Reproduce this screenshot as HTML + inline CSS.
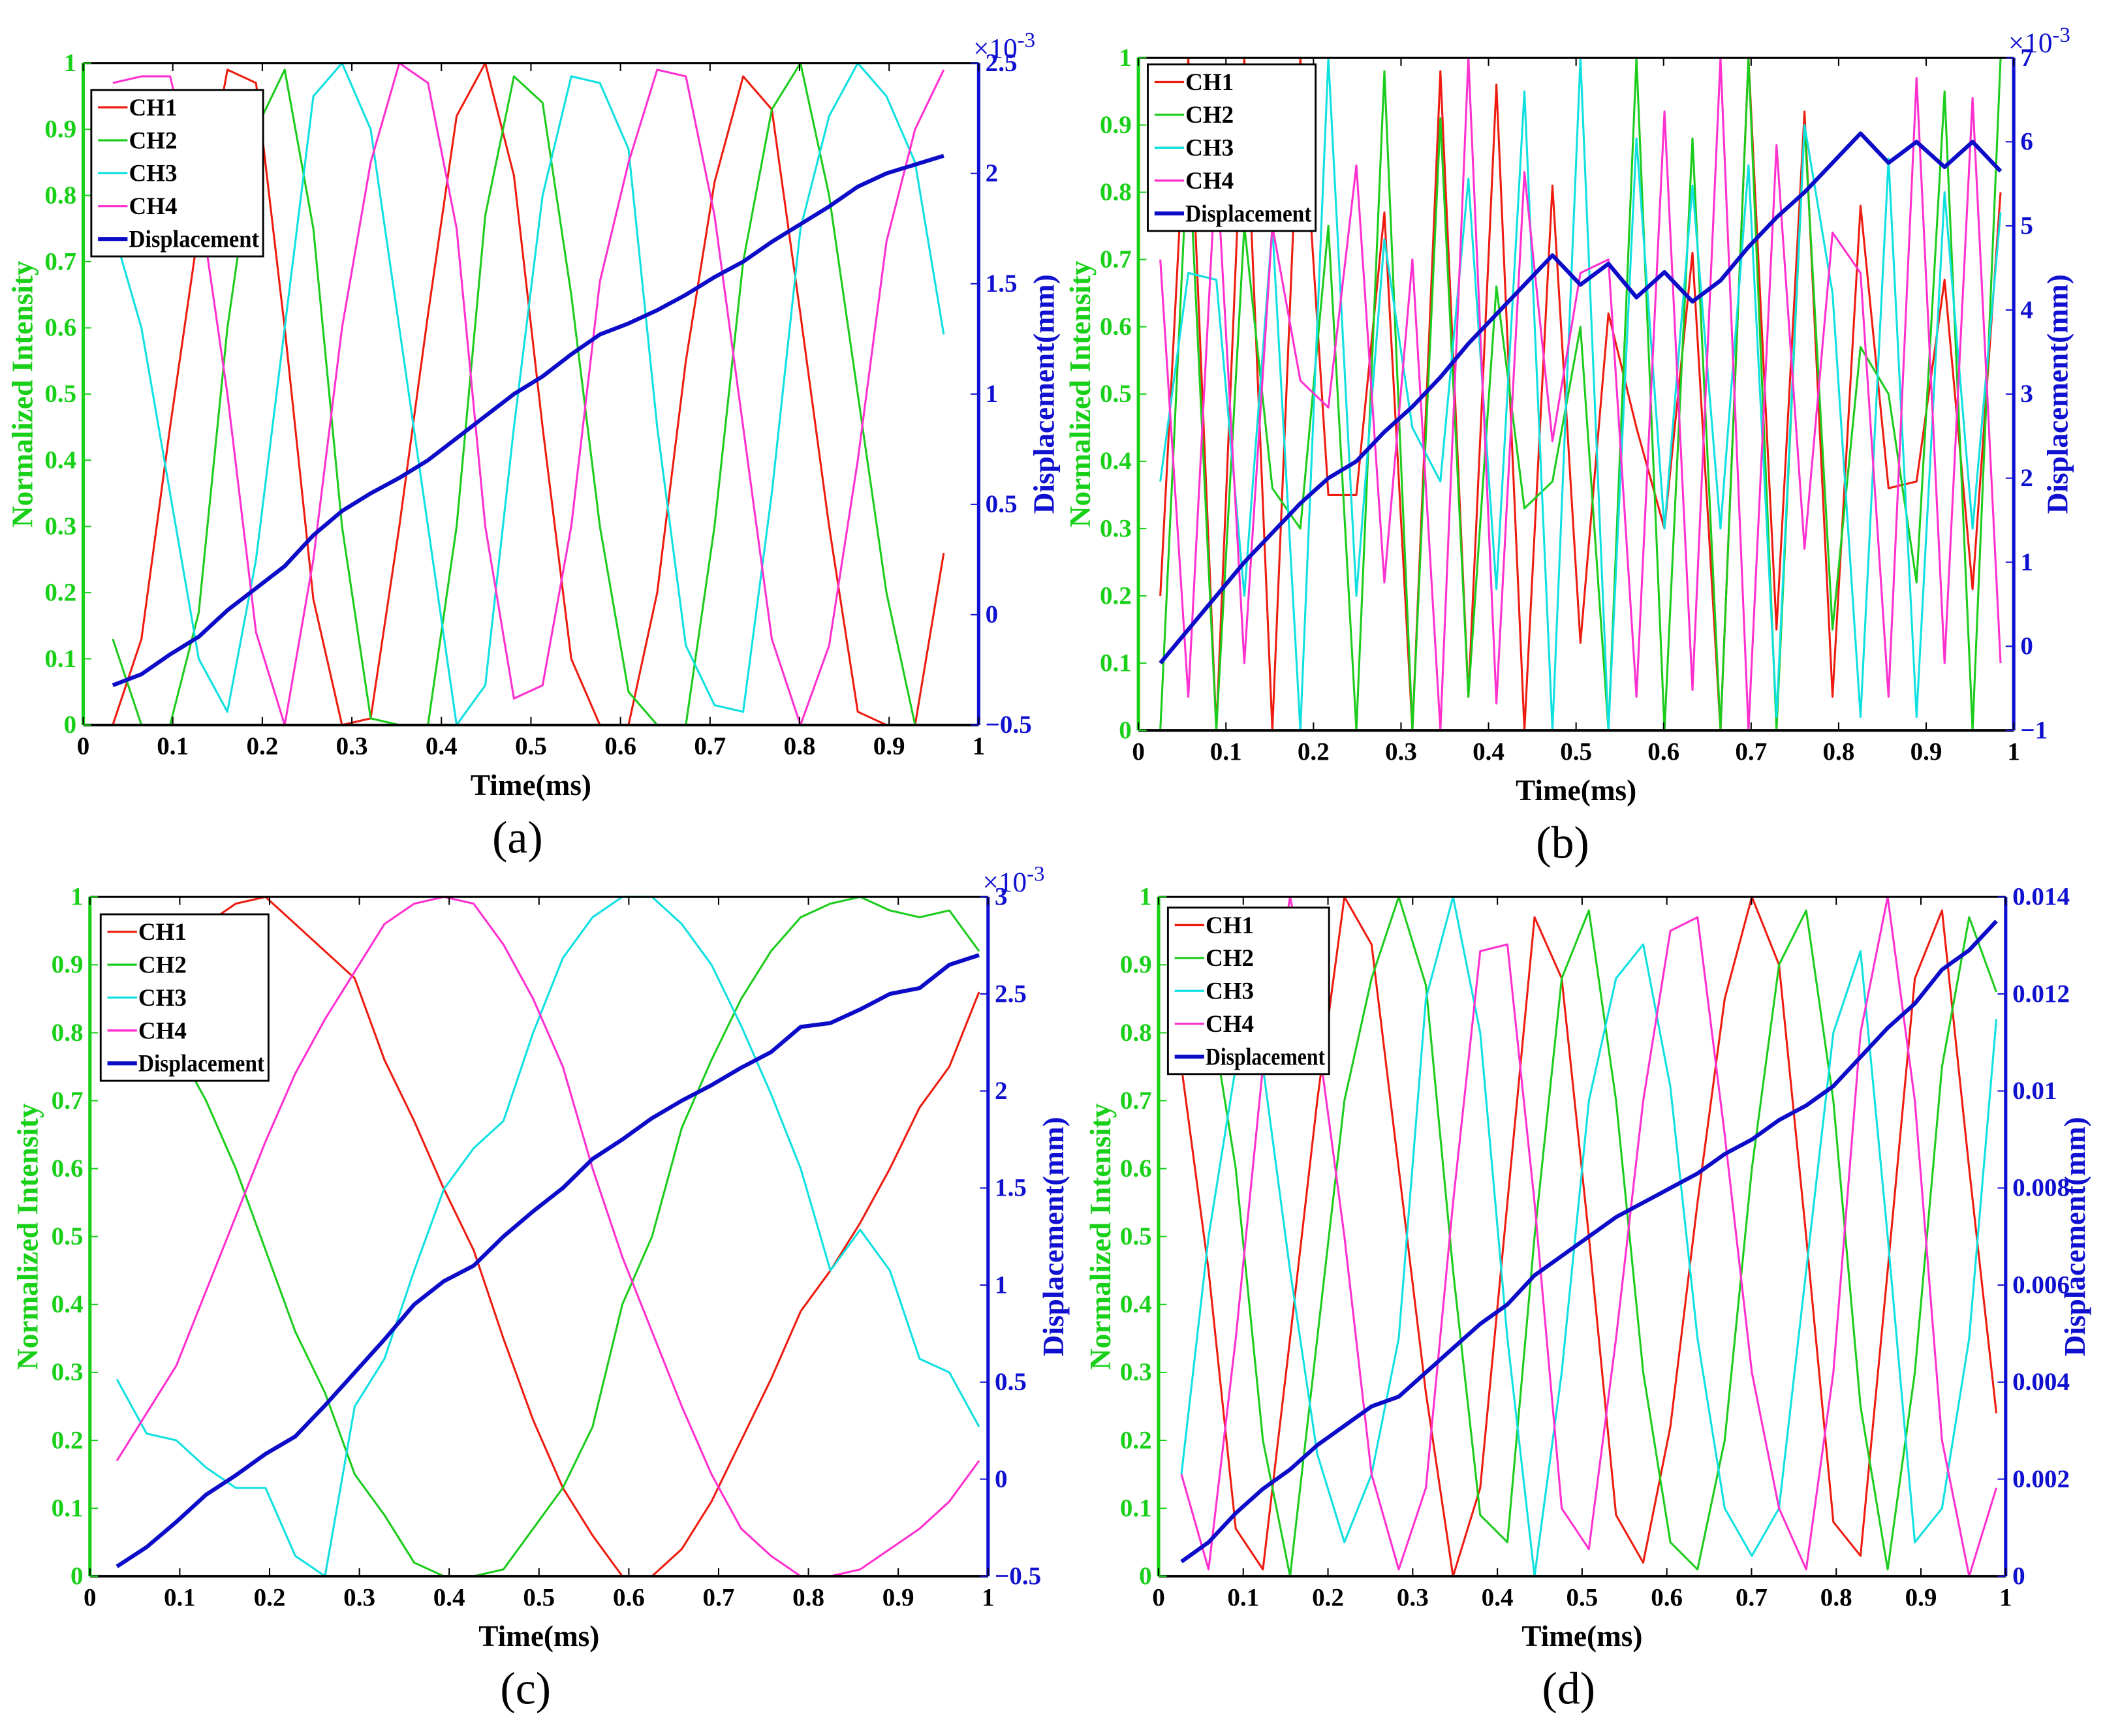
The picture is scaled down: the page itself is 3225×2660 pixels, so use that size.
<!DOCTYPE html>
<html><head><meta charset="utf-8"><style>
html,body{margin:0;padding:0;background:#fff;}
svg{display:block;font-family:"Liberation Serif",serif;}
</style></head><body>
<svg id="fig" width="3225" height="2660" viewBox="0 0 1568 1293" preserveAspectRatio="none" xmlns="http://www.w3.org/2000/svg"></svg>
<script>
// ---------- data ----------
const xTicks = [0,0.1,0.2,0.3,0.4,0.5,0.6,0.7,0.8,0.9,1];
const yTicks = [0,0.1,0.2,0.3,0.4,0.5,0.6,0.7,0.8,0.9,1];
const seriesNames = ["CH1","CH2","CH3","CH4","Displacement"];

// panel a
const aRed   = [0,0.13,0.45,0.75,0.99,0.97,0.6,0.19,0.0,0.01,0.3,0.62,0.92,1.0,0.83,0.45,0.1,0.0,0.0,0.2,0.55,0.82,0.98,0.93,0.62,0.3,0.02,0.0,0.0,0.26];
const aGreen = [0.13,0,0,0.17,0.6,0.9,0.99,0.75,0.3,0.01,0,0,0.3,0.77,0.98,0.94,0.65,0.3,0.05,0,0,0.3,0.7,0.93,1.0,0.8,0.5,0.2,0,0];
const aCyan  = [0.75,0.6,0.35,0.1,0.02,0.25,0.6,0.95,1.0,0.9,0.6,0.3,0.0,0.06,0.45,0.8,0.98,0.97,0.87,0.45,0.12,0.03,0.02,0.35,0.75,0.92,1.0,0.95,0.85,0.59];
const aMag   = [0.97,0.98,0.98,0.8,0.5,0.14,0.0,0.25,0.6,0.85,1.0,0.97,0.75,0.3,0.04,0.06,0.3,0.67,0.85,0.99,0.98,0.77,0.45,0.13,0.0,0.12,0.4,0.73,0.9,0.99];
const aDisp  = [-0.32,-0.27,-0.18,-0.1,0.02,0.12,0.22,0.36,0.47,0.55,0.62,0.7,0.8,0.9,1.0,1.08,1.18,1.27,1.32,1.38,1.45,1.53,1.6,1.69,1.77,1.85,1.94,2.0,2.04,2.08];
const aRightTicks = [-0.5,0,0.5,1,1.5,2,2.5];
const aRightLabels = ["\u22120.5","0","0.5","1","1.5","2","2.5"];

// panel b
const bRed   = [0.2,1.0,0.0,1.0,0.0,1.0,0.35,0.35,0.77,0.0,0.98,0.05,0.96,0.0,0.81,0.13,0.62,0.45,0.3,0.71,0.0,1.0,0.15,0.92,0.05,0.78,0.36,0.37,0.67,0.21,0.8];
const bGreen = [0.0,0.88,0.0,0.75,0.36,0.3,0.75,0.0,0.98,0.0,0.91,0.05,0.66,0.33,0.37,0.6,0.0,1.0,0.0,0.88,0.0,1.0,0.0,0.9,0.15,0.57,0.5,0.22,0.95,0.0,1.0];
const bCyan  = [0.37,0.68,0.67,0.2,0.75,0.0,1.0,0.2,0.73,0.45,0.37,0.82,0.21,0.95,0.0,1.0,0.0,0.88,0.3,0.81,0.3,0.84,0.02,0.9,0.65,0.02,0.85,0.02,0.8,0.3,0.77];
const bMag   = [0.7,0.05,0.85,0.1,0.75,0.52,0.48,0.84,0.22,0.7,0.0,1.0,0.04,0.83,0.43,0.68,0.7,0.05,0.92,0.06,1.0,0.0,0.87,0.27,0.74,0.68,0.05,0.97,0.1,0.94,0.1];
const bDisp  = [-0.2,0.2,0.6,1.0,1.35,1.7,2.0,2.2,2.55,2.85,3.2,3.6,3.95,4.3,4.65,4.3,4.55,4.15,4.45,4.1,4.35,4.75,5.1,5.4,5.75,6.1,5.75,6.0,5.7,6.0,5.65];
const bRightTicks = [-1,0,1,2,3,4,5,6,7];
const bRightLabels = ["\u22121","0","1","2","3","4","5","6","7"];

// panel c
const cRed   = [0.75,0.83,0.9,0.96,0.99,1.0,0.96,0.92,0.88,0.76,0.67,0.57,0.48,0.35,0.23,0.13,0.06,0.0,0.0,0.04,0.11,0.2,0.29,0.39,0.45,0.52,0.6,0.69,0.75,0.86];
const cGreen = [0.92,0.85,0.78,0.7,0.6,0.48,0.36,0.27,0.15,0.09,0.02,0.0,0.0,0.01,0.07,0.13,0.22,0.4,0.5,0.66,0.76,0.85,0.92,0.97,0.99,1.0,0.98,0.97,0.98,0.92];
const cCyan  = [0.29,0.21,0.2,0.16,0.13,0.13,0.03,0.0,0.25,0.32,0.45,0.57,0.63,0.67,0.8,0.91,0.97,1.0,1.0,0.96,0.9,0.81,0.71,0.6,0.45,0.51,0.45,0.32,0.3,0.22];
const cMag   = [0.17,0.24,0.31,0.42,0.53,0.64,0.74,0.82,0.89,0.96,0.99,1.0,0.99,0.93,0.85,0.75,0.6,0.47,0.36,0.25,0.15,0.07,0.03,0.0,0.0,0.01,0.04,0.07,0.11,0.17];
const cDisp  = [-0.45,-0.35,-0.22,-0.08,0.02,0.13,0.22,0.38,0.55,0.72,0.9,1.02,1.1,1.25,1.38,1.5,1.65,1.75,1.86,1.95,2.03,2.12,2.2,2.33,2.35,2.42,2.5,2.53,2.65,2.7];
const cRightTicks = [-0.5,0,0.5,1,1.5,2,2.5,3];
const cRightLabels = ["\u22120.5","0","0.5","1","1.5","2","2.5","3"];

// panel d
const dRed   = [0.75,0.45,0.07,0.01,0.35,0.7,1.0,0.93,0.6,0.27,0.0,0.13,0.55,0.97,0.88,0.5,0.09,0.02,0.22,0.55,0.85,1.0,0.9,0.5,0.08,0.03,0.45,0.88,0.98,0.6,0.24];
const dGreen = [0.95,0.85,0.6,0.2,0.0,0.35,0.7,0.88,1.0,0.87,0.45,0.09,0.05,0.5,0.88,0.98,0.7,0.3,0.05,0.01,0.2,0.6,0.9,0.98,0.7,0.25,0.01,0.3,0.75,0.97,0.86];
const dCyan  = [0.15,0.5,0.75,0.75,0.45,0.18,0.05,0.15,0.35,0.85,1.0,0.8,0.35,0.0,0.3,0.7,0.88,0.93,0.72,0.35,0.1,0.03,0.1,0.45,0.8,0.92,0.5,0.05,0.1,0.35,0.82];
const dMag   = [0.15,0.01,0.35,0.75,1.0,0.8,0.5,0.15,0.01,0.13,0.55,0.92,0.93,0.55,0.1,0.04,0.35,0.7,0.95,0.97,0.65,0.3,0.1,0.01,0.3,0.8,1.0,0.7,0.2,0.0,0.13];
const dDisp  = [0.0003,0.0007,0.0013,0.0018,0.0022,0.0027,0.0031,0.0035,0.0037,0.0042,0.0047,0.0052,0.0056,0.0062,0.0066,0.007,0.0074,0.0077,0.008,0.0083,0.0087,0.009,0.0094,0.0097,0.0101,0.0107,0.0113,0.0118,0.0125,0.0129,0.0135];
const dRightTicks = [0,0.002,0.004,0.006,0.008,0.01,0.012,0.014];
const dRightLabels = ["0","0.002","0.004","0.006","0.008","0.01","0.012","0.014"];

// ---------- drawing ----------
const NS = "http://www.w3.org/2000/svg";
const svg = document.getElementById("fig");
const COLORS = ["#ee1c10","#1ccc1c","#10e0e0","#ff30d0","#0c0cc8"];
const GREEN = "#19d019", BLUE = "#1010d0";

function mk(tag, attrs, parent, txt){
  const e = document.createElementNS(NS, tag);
  for (const k in attrs) e.setAttribute(k, attrs[k]);
  if (txt !== undefined) e.textContent = txt;
  (parent || svg).appendChild(e);
  return e;
}

function panel(p){
  const g = mk("g", {});
  
  
  const W = p.R - p.L, H = p.B - p.T;
  const sx = v => p.L + v * W;
  const sy = v => p.B - v * H;
  const sr = v => p.B - (v - p.rMin) / (p.rMax - p.rMin) * H;
  const n = p.series[0].length;
  const xs = i => p.x0 + i * (p.x1 - p.x0) / (n - 1);

  p.series.forEach((arr, si) => {
    const pts = arr.map((v, i) => sx(xs(i)).toFixed(2) + "," + (si === 4 ? sr(v) : sy(v)).toFixed(2)).join(" ");
    const pl = mk("polyline", {points: pts, fill: "none", stroke: COLORS[si], "stroke-width": si === 4 ? 3 : 1.5, "stroke-linejoin": "round"}, g);
    
    
  });

  mk("line", {x1: p.L, y1: p.T, x2: p.R, y2: p.T, stroke: "#000", "stroke-width": 1.5}, g);
  const xa = mk("line", {x1: p.L, y1: p.B, x2: p.R, y2: p.B, stroke: "#000", "stroke-width": 2}, g);
  
  
  const la = mk("line", {x1: p.L, y1: p.T, x2: p.L, y2: p.B, stroke: GREEN, "stroke-width": 2.5}, g);
  
  
  const ra = mk("line", {x1: p.R, y1: p.T, x2: p.R, y2: p.B, stroke: BLUE, "stroke-width": 2.5}, g);
  
  

  xTicks.forEach(t => {
    mk("line", {x1: sx(t), y1: p.B, x2: sx(t), y2: p.B - 6, stroke: "#000", "stroke-width": 1}, g);
    mk("line", {x1: sx(t), y1: p.T, x2: sx(t), y2: p.T + 6, stroke: "#000", "stroke-width": 1}, g);
    const tl = mk("text", {x: sx(t), y: p.B + 22, "text-anchor": "middle", "font-size": 19, "font-weight": "bold", fill: "#000"}, g, String(t));
    
    
  });
  yTicks.forEach(t => {
    mk("line", {x1: p.L, y1: sy(t), x2: p.L + 6, y2: sy(t), stroke: GREEN, "stroke-width": 1}, g);
    const tl = mk("text", {x: p.L - 5, y: sy(t) + 6, "text-anchor": "end", "font-size": 19, "font-weight": "bold", fill: GREEN}, g, String(t));
    
    
  });
  p.rTicks.forEach((t, i) => {
    mk("line", {x1: p.R, y1: sr(t), x2: p.R - 6, y2: sr(t), stroke: BLUE, "stroke-width": 1}, g);
    const tl = mk("text", {x: p.R + 5, y: sr(t) + 6, "text-anchor": "start", "font-size": 19, "font-weight": "bold", fill: BLUE}, g, p.rLabels[i]);
    
    
  });
  if (p.exp) {
    const ex = mk("text", {x: p.R - 4, y: p.T - 4, "font-size": 21, fill: BLUE}, g);
    
    
    mk("tspan", {}, ex, "\u00d710");
    mk("tspan", {dy: -8, "font-size": 16}, ex, "-3");
  }

  const xt = mk("text", {x: (p.L + p.R) / 2, y: p.B + 52, "text-anchor": "middle", "font-size": 22, "font-weight": "bold", fill: "#000"}, g, "Time(ms)");
  
  
  const cy = (p.T + p.B) / 2;
  const lt = mk("text", {x: p.lx, y: cy, "text-anchor": "middle", "font-size": 22, "font-weight": "bold", fill: GREEN, transform: "rotate(-90 " + p.lx + " " + cy + ")"}, g, "Normalized Intensity");
  
  
  const rt = mk("text", {x: p.rx, y: cy, "text-anchor": "middle", "font-size": 22, "font-weight": "bold", fill: BLUE, transform: "rotate(-90 " + p.rx + " " + cy + ")"}, g, "Displacement(mm)");
  
  
  const pl = mk("text", {x: (p.L + p.R) / 2 - 10, y: p.B + 95, "text-anchor": "middle", "font-size": 34, fill: "#000"}, g, "(" + p.id + ")");
  
  

  const lg = mk("g", {}, g);
  
  
  mk("rect", {x: p.lgX, y: p.lgY, width: p.lgW, height: 124, fill: "#fff", stroke: "#000", "stroke-width": 1.4}, lg);
  seriesNames.forEach((nm, i) => {
    const yy = p.lgY + 13 + i * 24.5;
    mk("line", {x1: p.lgX + 5, y1: yy, x2: p.lgX + 27, y2: yy, stroke: COLORS[i], "stroke-width": i === 4 ? 3 : 1.6}, lg);
    const et = mk("text", {x: p.lgX + 28, y: yy + 6, "font-size": 18, "font-weight": "bold", fill: "#000", textLength: i === 4 ? p.lgW - 31 : 36, lengthAdjust: "spacingAndGlyphs"}, lg, nm);
    
    
  });
}

panel({id: "a", L: 62, R: 729, T: 47, B: 540, x0: 0.033, x1: 0.961, rMin: -0.5, rMax: 2.5,
  series: [aRed, aGreen, aCyan, aMag, aDisp], rTicks: aRightTicks, rLabels: aRightLabels, exp: true,
  lx: 24, rx: 785, lgX: 68, lgY: 67, lgW: 128});
panel({id: "b", L: 848, R: 1500, T: 43, B: 544, x0: 0.025, x1: 0.985, rMin: -1, rMax: 7,
  series: [bRed, bGreen, bCyan, bMag, bDisp], rTicks: bRightTicks, rLabels: bRightLabels, exp: true,
  lx: 812, rx: 1540, lgX: 855, lgY: 48, lgW: 125});
panel({id: "c", L: 67, R: 736, T: 668, B: 1174, x0: 0.03, x1: 0.99, rMin: -0.5, rMax: 3,
  series: [cRed, cGreen, cCyan, cMag, cDisp], rTicks: cRightTicks, rLabels: cRightLabels, exp: true,
  lx: 28, rx: 792, lgX: 75, lgY: 681, lgW: 125});
panel({id: "d", L: 863, R: 1494, T: 668, B: 1174, x0: 0.027, x1: 0.989, rMin: 0, rMax: 0.014,
  series: [dRed, dGreen, dCyan, dMag, dDisp], rTicks: dRightTicks, rLabels: dRightLabels, exp: false,
  lx: 827, rx: 1553, lgX: 870, lgY: 676, lgW: 120});
</script>
</body></html>
